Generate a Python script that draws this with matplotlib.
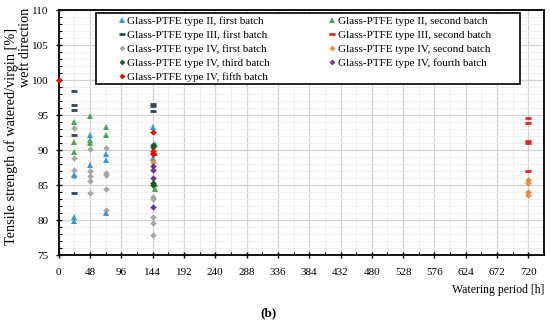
"""
Tensile strength of watered/virgin glass-PTFE samples, weft direction (panel b).
"""

import matplotlib
matplotlib.use("Agg")
import matplotlib.pyplot as plt
import matplotlib.ticker as ticker
from matplotlib.patches import Rectangle

plt.rcParams["font.family"] = ["Liberation Serif", "DejaVu Serif"]

# ---- data (watering period [h], ratio [%]) ----
ii_first_x = [24, 24, 24, 48, 48, 72, 72, 72, 144, 144]
ii_first_y = [86.5, 80.4, 79.9, 92.1, 87.9, 89.5, 88.6, 81.0, 93.3, 88.9]

iii_first_x = [24, 24, 24, 24, 24, 144, 144, 144]
iii_first_y = [98.4, 96.4, 95.7, 92.1, 83.9, 96.6, 96.3, 95.6]

iv_first_x = [24, 24, 24, 24, 48, 48, 48, 48, 48, 72, 72, 72, 72, 72,
              144, 144, 144, 144, 144]
iv_first_y = [93.1, 88.9, 87.1, 86.3, 90.1, 87.0, 86.3, 85.6, 83.9,
              90.3, 86.7, 86.4, 84.4, 81.4, 83.3, 83.0, 80.4, 79.6, 77.9]

iv_third_x = [144, 144, 144, 144]
iv_third_y = [90.8, 90.5, 85.3, 85.0]

iv_fifth_x = [0, 144, 144, 144, 144]
iv_fifth_y = [100.0, 92.6, 89.9, 89.6, 89.4]

ii_second_x = [24, 24, 24, 48, 48, 48, 72, 72, 147, 147, 147, 147]
ii_second_y = [94.0, 91.1, 89.8, 94.9, 91.4, 91.0, 93.3, 92.1,
               90.9, 89.6, 85.2, 84.4]

iii_second_x = [720, 720, 720, 720, 720]
iii_second_y = [94.6, 93.8, 91.3, 91.0, 87.0]

iv_second_x = [144, 720, 720, 720, 720]
iv_second_y = [88.3, 85.7, 85.3, 84.0, 83.6]

iv_fourth_x = [144, 144, 144, 144]
iv_fourth_y = [87.7, 87.1, 86.0, 81.9]

# ---- style ----
C_II1 = "#2e9ad8"
C_III1 = "#2f4461"
C_IV1 = "#a6a6a6"
C_IV3 = "#1d5a1d"
C_IV5 = "#ff0000"
C_II2 = "#43ad47"
C_III2 = "#ff1a1a"
C_IV2 = "#f7882f"
C_IV4 = "#7030a0"

FS_TICK = 8
FS_LEG = 8


def main():
    fig = plt.figure(figsize=(5.5, 3.25), dpi=100)
    ax = fig.add_axes([0.107, 0.215, 0.882, 0.754])

    tri = dict(marker="^", ms=4.5, ls="none", mew=0)
    dash = dict(marker="_", ms=4.5, ls="none", mew=2.0)
    dia = dict(marker="D", ms=3.3, ls="none", mew=0)

    series = [
        (ii_first_x, ii_first_y, C_II1, tri, "Glass-PTFE type II, first batch"),
        (iii_first_x, iii_first_y, C_III1, dash, "Glass-PTFE type III, first batch"),
        (iv_first_x, iv_first_y, C_IV1, dia, "Glass-PTFE type IV, first batch"),
        (iv_third_x, iv_third_y, C_IV3, dia, "Glass-PTFE type IV, third batch"),
        (iv_fifth_x, iv_fifth_y, C_IV5, dia, "Glass-PTFE type IV, fifth batch"),
        (ii_second_x, ii_second_y, C_II2, tri, "Glass-PTFE type II, second batch"),
        (iii_second_x, iii_second_y, C_III2, dash, "Glass-PTFE type III, second batch"),
        (iv_second_x, iv_second_y, C_IV2, dia, "Glass-PTFE type IV, second batch"),
        (iv_fourth_x, iv_fourth_y, C_IV4, dia, "Glass-PTFE type IV, fourth batch"),
    ]
    # grey / green underneath, coloured ones on top like the original
    zorders = [4, 4, 3, 6, 7, 5, 4, 5, 6]
    handles = []
    for (xs, ys, c, st, lab), z in zip(series, zorders):
        h, = ax.plot(xs, ys, color=c, label=lab, zorder=z, clip_on=False, **st)
        handles.append(h)

    ax.set_xlim(0, 744)
    ax.set_ylim(75, 110)
    ax.xaxis.set_major_locator(ticker.MultipleLocator(48))
    ax.xaxis.set_minor_locator(ticker.MultipleLocator(24))
    ax.yaxis.set_major_locator(ticker.MultipleLocator(5))
    ax.yaxis.set_minor_locator(ticker.MultipleLocator(1))

    ax.grid(True, which="major", color="#d4d4d4", lw=0.9, zorder=0)
    ax.grid(True, which="minor", color="#ececec", lw=0.6, zorder=0)
    ax.set_axisbelow(True)

    for sp in ax.spines.values():
        sp.set_linewidth(1.3)
        sp.set_color("black")
    ax.tick_params(which="major", direction="inout", length=5, width=1.0,
                   labelsize=FS_TICK, pad=5, color="black")
    ax.tick_params(which="minor", direction="in", length=2.5, width=0.8)
    ax.tick_params(axis="x", which="major", pad=7)

    # legend box is wider than its contents in the original, so draw it apart
    box = Rectangle((0.076, 0.697), 0.875, 0.291, transform=ax.transAxes,
                    facecolor="white", edgecolor="black", lw=1.2, zorder=9)
    ax.add_patch(box)
    leg = ax.legend(handles=handles, ncol=2, loc="upper left",
                    bbox_to_anchor=(0.116, 0.985), fontsize=FS_LEG,
                    frameon=False, borderpad=0.2, labelspacing=0.38,
                    handletextpad=0.1, handlelength=0.8, columnspacing=5.2,
                    borderaxespad=0, markerscale=0.9)
    leg.set_zorder(10)

    fig.text(0.02, 0.58, "Tensile strength of watered/virgin [%]",
             rotation=90, ha="center", va="center", fontsize=10.3)
    fig.text(0.046, 0.975, "weft direction",
             rotation=90, ha="center", va="top", fontsize=10.3)
    fig.text(0.989, 0.108, "Watering period [h]", ha="right", va="center",
             fontsize=8.5)
    fig.text(0.488, 0.037, "(b)", ha="center", va="center", fontsize=9.5,
             fontweight="bold")

    fig.savefig("out.png", dpi=100)
    plt.close(fig)


if __name__ == "__main__":
    main()
